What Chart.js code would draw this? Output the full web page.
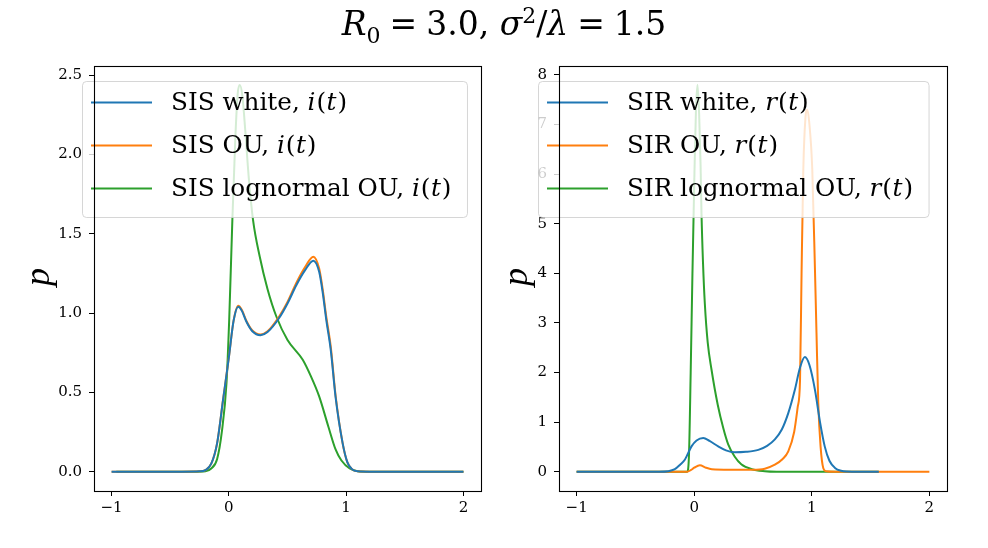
<!DOCTYPE html>
<html>
<head>
<meta charset="utf-8">
<script src="https://cdn.jsdelivr.net/npm/chart.js@4/dist/chart.umd.min.js"></script>
<style>
  html, body { margin: 0; padding: 0; background: #fff; }
  #wrap { position: relative; width: 988px; height: 548px; overflow: hidden; font-family: "DejaVu Serif", serif; }
  #c1 { position: absolute; left: 0; top: 0; }
  #c2 { position: absolute; left: 494px; top: 0; }
  #title { position: absolute; left: 0; width: 1008px; top: 7px; text-align: center; font-size: 33px; line-height: 1; color: #000; white-space: nowrap; }
  #title sub, #title sup { font-size: 22px; line-height: 0; }
  #title .eq { margin: 0 9px; }
  .ylab { position: absolute; font-family: "Liberation Serif", serif; font-size: 36px; font-style: italic; color: #000; transform: translate(-50%, -50%) rotate(-90deg); line-height: 1; }
</style>
</head>
<body>
<div id="wrap">
  <canvas id="c1" width="494" height="548"></canvas>
  <canvas id="c2" width="494" height="548"></canvas>
  <div id="title"><i>R</i><sub>0</sub><span class="eq">=</span>3.0, <i>σ</i><sup>2</sup>/<i>λ</i><span class="eq">=</span>1.5</div>
  <div class="ylab" style="left:37px; top:277px;">p</div>
  <div class="ylab" style="left:515px; top:277px;">p</div>
</div>
<script>
// ---- Left panel (SIS) ----
const sisX        = [-1, -0.4, -0.25, -0.2, -0.15, -0.1, -0.05, 0, 0.04, 0.08, 0.11, 0.15, 0.2, 0.27, 0.33, 0.43, 0.5, 0.575, 0.65, 0.72, 0.77, 0.8, 0.83, 0.87, 0.91, 0.97, 1.01, 1.05, 1.1, 1.2, 2];
const sisWhiteY   = [0, 0, 0.002, 0.01, 0.05, 0.18, 0.45, 0.72, 0.95, 1.04, 1.015, 0.945, 0.885, 0.86, 0.88, 0.97, 1.06, 1.175, 1.27, 1.33, 1.26, 1.13, 0.96, 0.76, 0.47, 0.18, 0.06, 0.015, 0.002, 0, 0];
const sisOuY      = [0, 0, 0.002, 0.01, 0.05, 0.18, 0.45, 0.72, 0.95, 1.045, 1.02, 0.95, 0.89, 0.865, 0.885, 0.98, 1.07, 1.19, 1.29, 1.355, 1.28, 1.15, 0.98, 0.78, 0.48, 0.18, 0.06, 0.015, 0.002, 0, 0];
const sisLogX     = [-0.96, -0.3, -0.2, -0.15, -0.1, -0.06, -0.02, 0.003, 0.03, 0.055, 0.075, 0.093, 0.115, 0.14, 0.17, 0.206, 0.263, 0.33, 0.405, 0.5, 0.63, 0.7, 0.77, 0.85, 0.91, 0.96, 1.03, 1.1, 1.2, 2];
const sisLogY     = [0, 0, 0.003, 0.02, 0.08, 0.25, 0.56, 0.96, 1.59, 2.1, 2.38, 2.437, 2.37, 2.15, 1.85, 1.587, 1.356, 1.15, 0.978, 0.83, 0.705, 0.6, 0.474, 0.28, 0.14, 0.07, 0.02, 0.003, 0, 0];
const sisLabels   = ["SIS white, i(t)", "SIS OU, i(t)", "SIS lognormal OU, i(t)"];

// ---- Right panel (SIR) ----
const sirWhiteX   = [-1, -0.3, -0.22, -0.165, -0.12, -0.08, -0.023, 0.02, 0.077, 0.13, 0.204, 0.27, 0.345, 0.44, 0.545, 0.62, 0.686, 0.745, 0.8, 0.856, 0.9, 0.941, 0.98, 1.027, 1.07, 1.11, 1.15, 1.2, 1.25, 1.3, 1.4, 1.57];
const sirWhiteY   = [0, 0, 0.01, 0.05, 0.14, 0.24, 0.51, 0.63, 0.68, 0.62, 0.51, 0.43, 0.39, 0.40, 0.44, 0.52, 0.65, 0.85, 1.18, 1.65, 2.1, 2.31, 2.15, 1.65, 1.0, 0.51, 0.22, 0.07, 0.02, 0.005, 0, 0];
const sirOuX      = [-1, -0.06, -0.03, 0, 0.048, 0.1, 0.15, 0.3, 0.5, 0.6, 0.686, 0.75, 0.8, 0.85, 0.88, 0.9, 0.913, 0.928, 0.945, 0.962, 0.98, 1.004, 1.027, 1.04, 1.055, 1.075, 1.098, 1.12, 1.2, 2];
const sirOuY      = [0, 0, 0.03, 0.08, 0.13, 0.08, 0.05, 0.04, 0.04, 0.06, 0.14, 0.25, 0.41, 0.8, 1.3, 1.85, 4.0, 6.1, 7.1, 7.3, 7.0, 6.1, 4.07, 2.8, 1.39, 0.5, 0.07, 0.01, 0, 0];
const sirLogX     = [-1, -0.06, -0.045, -0.03, -0.015, 0, 0.015, 0.028, 0.042, 0.054, 0.062, 0.075, 0.09, 0.115, 0.147, 0.2, 0.247, 0.289, 0.345, 0.4, 0.49, 0.6, 0.7, 1.57];
const sirLogY     = [0, 0, 0.3, 2.0, 4.0, 5.8, 7.3, 7.8, 7.2, 6.2, 5.2, 4.2, 3.4, 2.6, 2.06, 1.35, 0.88, 0.55, 0.3, 0.15, 0.05, 0.01, 0, 0];
const sirLabels   = ["SIR white, r(t)", "SIR OU, r(t)", "SIR lognormal OU, r(t)"];

// ---- Ticks ----
const xTicks      = [-1, 0, 1, 2];
const leftYTicks  = [0, 0.5, 1.0, 1.5, 2.0, 2.5];
const rightYTicks = [0, 1, 2, 3, 4, 5, 6, 7, 8];

const COLORS = ['#1f77b4', '#ff7f0e', '#2ca02c'];
const FONT = '"DejaVu Serif", "Liberation Serif", serif';

function pts(xs, ys) { return xs.map((x, i) => ({ x: x, y: ys[i] })); }

const framePlugin = {
  id: 'frame',
  afterDraw(chart) {
    const a = chart.chartArea, ctx = chart.ctx;
    ctx.save();
    ctx.strokeStyle = '#000';
    ctx.lineWidth = 1.1;
    ctx.strokeRect(Math.round(a.left) + 0.5, Math.round(a.top) + 0.5, Math.round(a.right - a.left), Math.round(a.bottom - a.top));
    ctx.restore();
  }
};

function drawLabel(ctx, text, x, y, size) {
  const idx = text.lastIndexOf(', ');
  const plain = text.slice(0, idx + 2);
  const math = text.slice(idx + 2);
  ctx.font = size + 'px ' + FONT;
  ctx.fillText(plain, x, y);
  let cx = x + ctx.measureText(plain).width;
  for (const ch of math) {
    const italic = /[a-z]/.test(ch);
    ctx.font = (italic ? 'italic ' : '') + size + 'px ' + FONT;
    ctx.fillText(ch, cx, y);
    cx += ctx.measureText(ch).width + (italic ? 1 : 0.5);
  }
  return cx - x;
}

function legendPlugin(offsetLeft) {
  return {
    id: 'insideLegend',
    afterDatasetsDraw(chart) {
      const ctx = chart.ctx, a = chart.chartArea;
      const size = 24.7;
      const ds = chart.data.datasets;
      ctx.save();
      let maxW = 0;
      ctx.textBaseline = 'middle';
      ctx.globalAlpha = 0;
      ds.forEach(d => { maxW = Math.max(maxW, drawLabel(ctx, d.label, 0, -100, size)); });
      ctx.globalAlpha = 1;
      const bx = a.left - offsetLeft, by = a.top + 15;
      const bw = 89 + maxW + 15, bh = 136;
      ctx.beginPath();
      ctx.roundRect(bx + 0.5, by + 0.5, bw, bh, 4);
      ctx.fillStyle = 'rgba(255,255,255,0.8)';
      ctx.fill();
      ctx.strokeStyle = 'rgba(204,204,204,0.8)';
      ctx.lineWidth = 1;
      ctx.stroke();
      ds.forEach((d, i) => {
        const ly = by + 21.5 + i * 43;
        ctx.beginPath();
        ctx.moveTo(bx + 9, ly);
        ctx.lineTo(bx + 70, ly);
        ctx.strokeStyle = d.borderColor;
        ctx.lineWidth = 2;
        ctx.stroke();
        ctx.fillStyle = '#000';
        drawLabel(ctx, d.label, bx + 89, ly + 1, size);
      });
      ctx.restore();
    }
  };
}

function makeChart(canvasId, series, labels, yMin, yMax, yTicks, yFmt, yWidth, padRight, legendOffset) {
  return new Chart(document.getElementById(canvasId), {
    type: 'line',
    data: {
      datasets: series.map((s, i) => ({
        label: labels[i],
        data: pts(s[0], s[1]),
        borderColor: COLORS[i],
        backgroundColor: COLORS[i],
        borderWidth: 2,
        pointRadius: 0,
        cubicInterpolationMode: 'monotone',
        fill: false
      }))
    },
    options: {
      responsive: false,
      animation: false,
      events: [],
      layout: { padding: { top: 66, right: padRight, bottom: 0, left: 0 } },
      plugins: { legend: { display: false }, title: { display: false }, tooltip: { enabled: false } },
      scales: {
        x: {
          type: 'linear',
          min: -1.15, max: 2.15,
          afterFit(s) { s.height = 57; },
          afterBuildTicks(s) { s.ticks = xTicks.map(v => ({ value: v })); },
          grid: { drawOnChartArea: false, drawTicks: true, tickLength: 5, color: '#000', tickWidth: 1 },
          border: { display: false },
          ticks: {
            padding: 3,
            color: '#000',
            font: { family: FONT, size: 15 },
            maxRotation: 0,
            callback: v => (v < 0 ? '\u2212' + Math.abs(v) : String(v))
          }
        },
        y: {
          type: 'linear',
          min: yMin, max: yMax,
          afterFit(s) { s.width = yWidth; },
          afterBuildTicks(s) { s.ticks = yTicks.map(v => ({ value: v })); },
          grid: { drawOnChartArea: false, drawTicks: true, tickLength: 5, color: '#000', tickWidth: 1 },
          border: { display: false },
          ticks: {
            padding: 7,
            color: '#000',
            font: { family: FONT, size: 15 },
            callback: yFmt
          }
        }
      }
    },
    plugins: [framePlugin, legendPlugin(legendOffset)]
  });
}

makeChart('c1',
  [[sisX, sisWhiteY], [sisX, sisOuY], [sisLogX, sisLogY]],
  sisLabels, -0.122, 2.557, leftYTicks, v => v.toFixed(1), 94, 13, 12);

makeChart('c2',
  [[sirWhiteX, sirWhiteY], [sirOuX, sirOuY], [sirLogX, sirLogY]],
  sirLabels, -0.39, 8.18, rightYTicks, v => String(v), 65, 41, 21);
</script>
</body>
</html>
